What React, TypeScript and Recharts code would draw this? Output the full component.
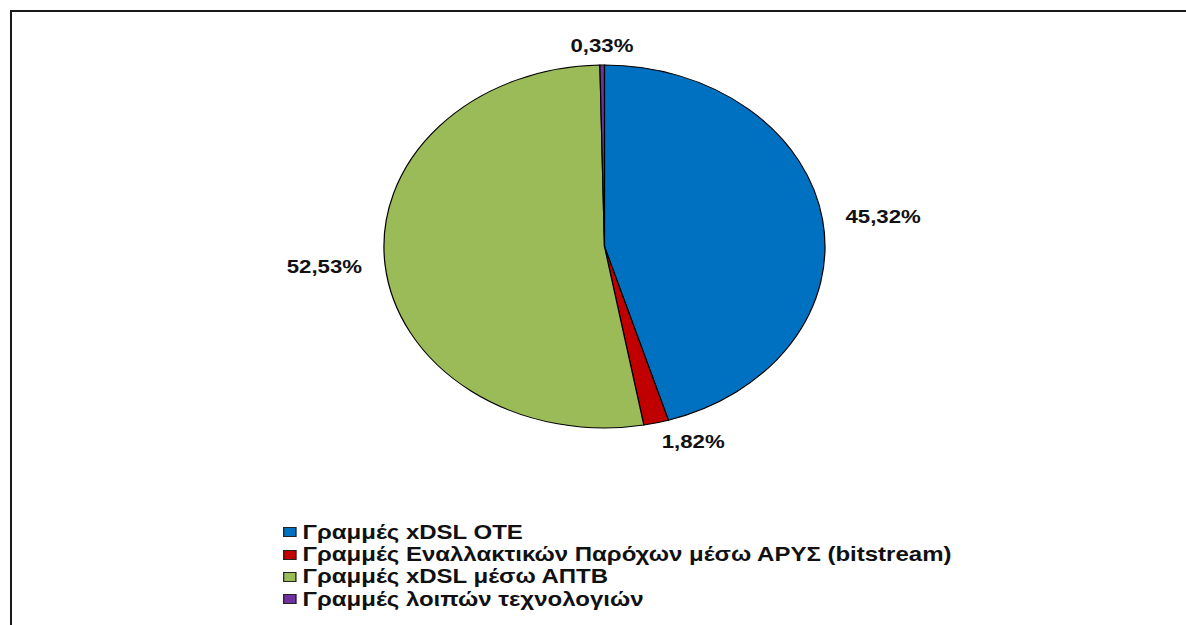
import React from 'react';
import { PieChart, Pie, Cell, Legend } from 'recharts';

const categories = [
  'Γραμμές xDSL ΟΤΕ',
  'Γραμμές Εναλλακτικών Παρόχων μέσω ΑΡΥΣ (bitstream)',
  'Γραμμές xDSL μέσω ΑΠΤΒ',
  'Γραμμές λοιπών τεχνολογιών',
];
const shares = [45.32, 1.82, 52.53, 0.33];
const colors = ['#0070C0', '#C00000', '#9BBB59', '#7030A0'];

// the original picture is stretched horizontally, so draw at native size and scale X
const STRETCH = 1.215;
const W = Math.round(1186 / STRETCH);
const H = 625;
const FONT = '"Liberation Sans", Arial, sans-serif';

const data = categories.map((name, i) => ({ name, value: shares[i] }));

const RAD = Math.PI / 180;

const renderLabel = (props: any) => {
  const { cx, cy, midAngle, outerRadius, index } = props;
  const r = outerRadius + 19;
  const cos = Math.cos(-midAngle * RAD);
  const sin = Math.sin(-midAngle * RAD);
  const x = cx + r * cos;
  const y = cy + r * sin;
  const anchor = cos > 0.1 ? 'start' : cos < -0.1 ? 'end' : 'middle';
  return (
    <text
      x={x}
      y={y}
      textAnchor={anchor}
      dominantBaseline="central"
      fontFamily={FONT}
      fontWeight="bold"
      fontSize={18.3}
      fill="#111"
    >
      {shares[index].toFixed(2).replace('.', ',') + '%'}
    </text>
  );
};

const LegendContent = ({ payload }: any) => {
  if (!payload) return null;
  // keep the order of the categories (legend sorts by name otherwise)
  const items = [...payload].sort(
    (a: any, b: any) => categories.indexOf(a.value) - categories.indexOf(b.value)
  );
  return (
    <div style={{ fontFamily: FONT, fontWeight: 'bold', fontSize: 19.75, color: '#111' }}>
      {items.map((entry: any, i: number) => (
        <div key={i} style={{ display: 'flex', alignItems: 'center', height: 22.4, whiteSpace: 'nowrap' }}>
          <span
            style={{
              display: 'inline-block',
              width: 9,
              height: 8,
              background: entry.color,
              border: '1px solid #222',
              marginRight: 5,
            }}
          />
          <span>{entry.value}</span>
        </div>
      ))}
    </div>
  );
};

export default function App() {
  return (
    <div style={{ position: 'absolute', left: 0, top: 0, width: 1186, height: 625, overflow: 'hidden', background: '#fff' }}>
      <div
        style={{
          position: 'absolute',
          left: 10,
          top: 10,
          width: 1300,
          height: 700,
          borderLeft: '2px solid #1a1a1a',
          borderTop: '2px solid #1a1a1a',
        }}
      />
      <div
        style={{
          position: 'absolute',
          left: 0,
          top: 0,
          width: W,
          height: H,
          transform: `scaleX(${STRETCH})`,
          transformOrigin: '0 0',
        }}
      >
        <PieChart width={W} height={H} margin={{ top: 0, right: 0, bottom: 0, left: 0 }}>
          <Pie
            data={data}
            dataKey="value"
            nameKey="name"
            cx={497.5}
            cy={246.5}
            outerRadius={181.5}
            startAngle={90}
            endAngle={-270}
            stroke="#000"
            strokeWidth={1}
            label={renderLabel}
            labelLine={false}
            isAnimationActive={false}
          >
            {data.map((d, i) => (
              <Cell key={d.name} fill={colors[i]} />
            ))}
          </Pie>
          <Legend
            content={<LegendContent />}
            wrapperStyle={{ position: 'absolute', left: 233, top: 521, width: 'auto' }}
          />
        </PieChart>
      </div>
    </div>
  );
}
